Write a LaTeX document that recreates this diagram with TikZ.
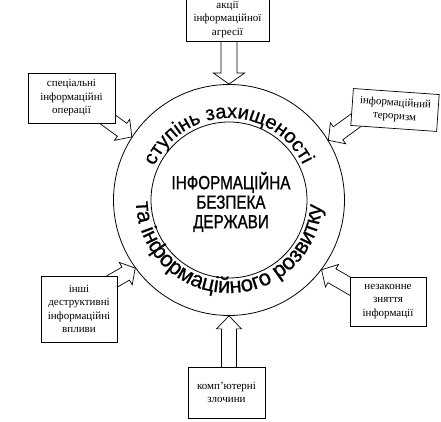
\documentclass[tikz,border=0pt]{standalone}
\usepackage{fontspec}
\setmainfont{Liberation Serif}
\newfontfamily\arcfont[FakeBold=0.6]{Liberation Sans}
\newfontfamily\narrowsans[FakeStretch=0.8,FakeBold=1]{Liberation Sans}
\usetikzlibrary{decorations.text}
\tikzset{
  box/.style={draw, fill=white, align=center, inner sep=1pt, line width=0.7pt, font=\fontsize{11}{13.5}\selectfont},
  arrowshape/.style={draw, fill=white, line width=0.7pt, line join=miter},
  ring/.style={draw, circle, inner sep=0pt, line width=0.8pt}
}
\newcommand\blockarr[6]{\draw[arrowshape, shift={(#1)}, rotate=#2] (0,0) -- (-#4,#5) -- (-#4,#6) -- (-#3,#6) -- (-#3,-#6) -- (-#4,-#6) -- (-#4,-#5) -- cycle;}
\begin{document}
\begin{tikzpicture}[x=1pt,y=1pt]
\useasboundingbox (0,0) rectangle (441,422);
\clip (0,0) rectangle (441,422);
\node[ring, minimum size=231pt] (outer) at (229,222) {};
\node[ring, minimum size=156pt] (inner) at (229,222) {};
\node[font=\narrowsans\fontsize{19}{19.5}\selectfont, align=center] (title) at (231,220) {ІНФОРМАЦІЙНА\\БЕЗПЕКА\\ДЕРЖАВИ};
{\arcfont\fontsize{20}{24}\selectfont
\path[decorate, decoration={text along path, text align=center, text={ступінь захищеності}}] (inner.center) ++(165:82) arc[start angle=165, end angle=16, radius=82];
}
{\arcfont\fontsize{22}{26}\selectfont
\path[decorate, decoration={text along path, text align=center, text={та інформаційного розвитку}}] (inner.center) ++(175:93) arc[start angle=175, end angle=363, radius=93];
}
\blockarr{outer.90}{-90}{46}{11}{15.5}{8}
\blockarr{outer.270}{90}{55}{13}{12.5}{7.5}
\blockarr{outer.147}{-36}{40}{12}{13}{8}
\blockarr{outer.31}{216}{42}{12}{13}{8}
\blockarr{outer.216}{30}{32}{11}{13}{7.5}
\blockarr{outer.323}{150}{42}{12}{13}{8}
\node[box, minimum width=83pt, anchor=south, inner ysep=4pt] (agr) at (227.5,380) {акції\\інформаційної\\агресії};
\node[box, minimum width=87pt, minimum height=50pt] (spec) at (71.5,324) {спеціальні\\інформаційні\\операції};
\node[box, minimum width=86pt, minimum height=37pt, rotate=-4] (teror) at (395,312) {інформаційний\\тероризм};
\node[box, minimum width=76pt, minimum height=66pt] (inshi) at (79,113) {інші\\деструктивні\\інформаційні\\впливи};
\node[box, minimum width=76pt, minimum height=49pt] (nezak) at (388,120.5) {незаконне\\зняття\\інформації};
\node[box, minimum width=77pt, minimum height=51pt] (komp) at (226.5,29.5) {комп’ютерні\\злочини};
\end{tikzpicture}
\end{document}
